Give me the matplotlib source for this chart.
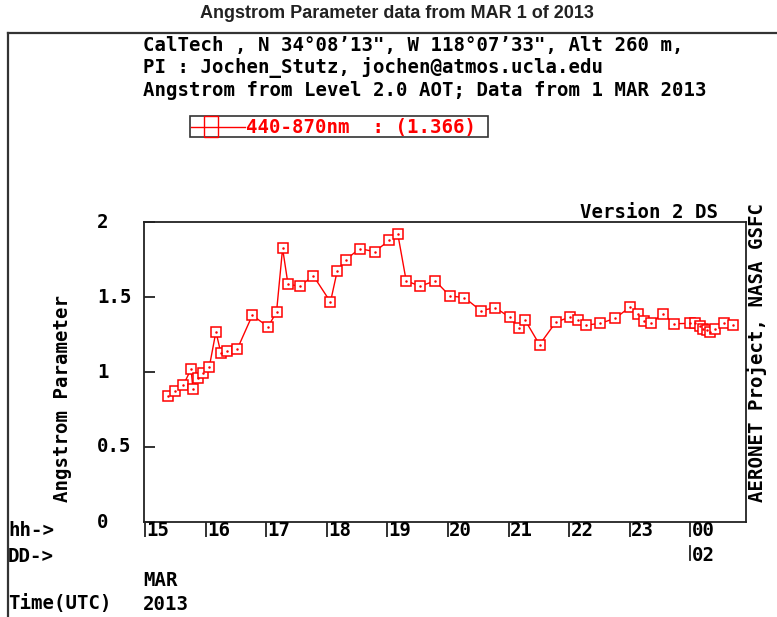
import matplotlib
matplotlib.use("Agg")
import matplotlib.pyplot as plt
import matplotlib.transforms as mtransforms
from matplotlib.lines import Line2D
from matplotlib.patches import Rectangle

# hours UTC since 1 MAR 2013 00:00 and Angstrom parameter (440-870nm)
hours = [15.38, 15.50, 15.63, 15.76, 15.79, 15.87, 15.95, 16.06, 16.17, 16.25,
         16.36, 16.52, 16.77, 17.03, 17.17, 17.27, 17.36, 17.55, 17.78, 18.06,
         18.17, 18.31, 18.54, 18.79, 19.03, 19.17, 19.31, 19.54, 19.79, 20.03,
         20.27, 20.54, 20.78, 21.02, 21.17, 21.27, 21.51, 21.78, 22.02, 22.14,
         22.28, 22.51, 22.76, 23.01, 23.13, 23.24, 23.35, 23.54, 23.73, 23.99,
         24.08, 24.15, 24.21, 24.28, 24.33, 24.40, 24.55, 24.70]
angstrom = [0.842, 0.876, 0.911, 1.020, 0.887, 0.960, 0.995, 1.033, 1.269, 1.129,
            1.138, 1.151, 1.378, 1.302, 1.400, 1.824, 1.584, 1.573, 1.640, 1.467,
            1.671, 1.747, 1.823, 1.802, 1.878, 1.922, 1.607, 1.573, 1.607, 1.507,
            1.496, 1.409, 1.429, 1.364, 1.291, 1.347, 1.182, 1.333, 1.367, 1.347,
            1.313, 1.324, 1.358, 1.436, 1.387, 1.342, 1.324, 1.389, 1.322, 1.324,
            1.324, 1.310, 1.288, 1.280, 1.266, 1.287, 1.324, 1.313]

hour_ticks = [15, 16, 17, 18, 19, 20, 21, 22, 23, 24]
hour_labels = ["15", "16", "17", "18", "19", "20", "21", "22", "23", "00"]
y_ticks = [0, 0.5, 1, 1.5, 2]
y_labels = ["0", "0.5", "1", "1.5", "2"]

header = ["CalTech , N 34\u00b008\u201913\", W 118\u00b007\u201933\", Alt 260 m,",
          "PI : Jochen_Stutz, jochen@atmos.ucla.edu",
          "Angstrom from Level 2.0 AOT; Data from 1 MAR 2013"]
legend_label = "440-870nm  : (1.366)"

W, H = 777, 617
MONO = "DejaVu Sans Mono"
FS = 13.7


def fx(x):
    return x / W


def fy(y):
    return 1 - y / H


fig = plt.figure(figsize=(W / 100, H / 100), dpi=100)
fig.patch.set_facecolor("white")

# outer frame (open to the right/bottom edge)
fig.add_artist(Line2D([fx(8), fx(780)], [fy(33), fy(33)], color="#333333", lw=1.6))
fig.add_artist(Line2D([fx(8), fx(8)], [fy(33), fy(620)], color="#333333", lw=1.6))

fig.text(fx(397), fy(14), "Angstrom Parameter data from MAR 1 of 2013",
         ha="center", va="center", fontsize=13, fontweight="bold",
         family=["Liberation Sans Narrow", "Liberation Sans"], color="#222222")

for i, line in enumerate(header):
    fig.text(fx(143), fy(46 + 22 * i), line, ha="left", va="center",
             fontsize=FS, fontweight="bold", family=MONO)

# legend box
fig.add_artist(Rectangle((fx(190), fy(137)), fx(488) - fx(190), fy(116) - fy(137),
                         fill=False, edgecolor="#333333", lw=1.2))
fig.add_artist(Line2D([fx(191), fx(245)], [fy(127), fy(127)], color="red", lw=1.0))
fig.add_artist(Rectangle((fx(204), fy(137)), fx(218) - fx(204), fy(116) - fy(137),
                         fill=False, edgecolor="red", lw=1.0))
fig.text(fx(246), fy(127), legend_label, ha="left", va="center", color="red",
         fontsize=FS, fontweight="bold", family=MONO)

ax = fig.add_axes([fx(144), fy(522), fx(746) - fx(144), fy(222) - fy(522)])
ax.plot(hours, angstrom, color="red", lw=1.0, marker="s", ms=6.8,
        mfc="white", mec="red", mew=1.1)
ax.plot(hours, angstrom, ls="none", marker=".", ms=1.6, color="red")
ax.set_xlim(14.983, 24.917)
ax.set_ylim(0, 2)
for s in ax.spines.values():
    s.set_linewidth(1.3)
    s.set_color("#222222")

ax.set_yticks(y_ticks)
ax.set_yticklabels([])
ax.tick_params(axis="y", direction="in", length=8, width=1.3, color="#222222")
ax.set_xticks(hour_ticks)
ax.set_xticklabels([])
ax.tick_params(axis="x", direction="out", length=11, width=1.3, color="#222222")

ytrans = mtransforms.blended_transform_factory(fig.transFigure, ax.transData)
for v, lab in zip(y_ticks, y_labels):
    fig.text(fx(97), v, lab, transform=ytrans, ha="left", va="center",
             fontsize=FS, fontweight="bold", family=MONO)

xtrans = ax.get_xaxis_transform()
for h, lab in zip(hour_ticks, hour_labels):
    ax.text(h + 0.02, -0.03, lab, transform=xtrans, ha="left", va="center",
            fontsize=FS, fontweight="bold", family=MONO, clip_on=False)
ax.plot([24, 24], [-0.08, -0.125], transform=xtrans, color="#222222", lw=1.3,
        clip_on=False)
ax.text(24.02, -0.113, "02", transform=xtrans, ha="left", va="center",
        fontsize=FS, fontweight="bold", family=MONO, clip_on=False)

fig.text(fx(8), fy(531), "hh->", ha="left", va="center", fontsize=FS,
         fontweight="bold", family=MONO)
fig.text(fx(8), fy(556), "DD->", ha="left", va="center", fontsize=FS,
         fontweight="bold", family=MONO)
fig.text(fx(143), fy(580), "MAR", ha="left", va="center", fontsize=FS,
         fontweight="bold", family=MONO)
fig.text(fx(143), fy(604), "2013", ha="left", va="center", fontsize=FS,
         fontweight="bold", family=MONO)
fig.text(fx(8), fy(604), "Time(UTC)", ha="left", va="center", fontsize=FS,
         fontweight="bold", family=MONO)

fig.text(fx(62), fy(398), "Angstrom Parameter", rotation=90, ha="center",
         va="center", fontsize=FS, fontweight="bold", family=MONO)
fig.text(fx(757), fy(352), "AERONET Project, NASA GSFC", rotation=90,
         ha="center", va="center", fontsize=FS, fontweight="bold", family=MONO)
fig.text(fx(718), fy(212), "Version 2 DS", ha="right", va="center",
         fontsize=FS, fontweight="bold", family=MONO)

fig.savefig("out.png", dpi=100, facecolor="white")
